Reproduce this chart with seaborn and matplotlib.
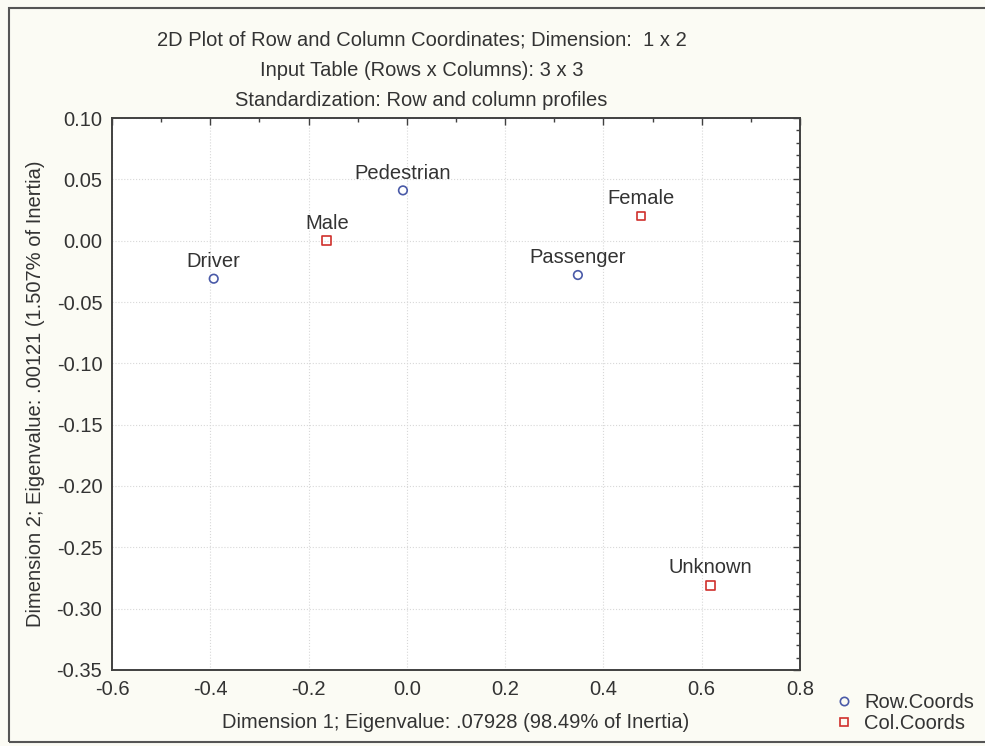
import matplotlib
matplotlib.use("Agg")
import matplotlib.pyplot as plt
import pandas as pd
import seaborn as sns
from matplotlib.lines import Line2D
from matplotlib.patches import Rectangle
from matplotlib.ticker import MultipleLocator

# Correspondence analysis coordinates
row_labels = ["Driver", "Pedestrian", "Passenger"]
row_dim1 = [-0.393, -0.008, 0.348]
row_dim2 = [-0.031, 0.041, -0.028]

col_labels = ["Male", "Female", "Unknown"]
col_dim1 = [-0.163, 0.476, 0.618]
col_dim2 = [0.000, 0.020, -0.281]

series_names = ["Row.Coords", "Col.Coords"]
x_ticks = [-0.6, -0.4, -0.2, 0.0, 0.2, 0.4, 0.6, 0.8]
y_ticks = [0.10, 0.05, 0.00, -0.05, -0.10, -0.15, -0.20, -0.25, -0.30, -0.35]

df = pd.DataFrame({
    "label": row_labels + col_labels,
    "dim1": row_dim1 + col_dim1,
    "dim2": row_dim2 + col_dim2,
    "set": [series_names[0]] * len(row_labels) + [series_names[1]] * len(col_labels),
})

blue = "#4a5aa8"
red = "#d0302c"
text_col = "#333333"
fs = 14.5

sns.set_style("white")
plt.rcParams["font.family"] = ["Liberation Sans", "DejaVu Sans"]

fig = plt.figure(figsize=(9.85, 7.46), dpi=100)
fig.patch.set_facecolor("#fbfbf4")
ax = fig.add_axes([0.1137, 0.1019, 0.6985, 0.7399])
ax.set_facecolor("white")

sns.scatterplot(
    data=df, x="dim1", y="dim2", hue="set", style="set",
    palette={series_names[0]: blue, series_names[1]: red},
    markers={series_names[0]: "o", series_names[1]: "s"},
    s=38, linewidth=1.2, legend=False, ax=ax, zorder=3,
)
# hollow markers: move the fill colour onto the edge
for coll in ax.collections:
    fc = coll.get_facecolors()
    coll.set_edgecolors(fc)
    coll.set_facecolors("none")

for _, r in df.iterrows():
    ax.annotate(r["label"], (r["dim1"], r["dim2"]), xytext=(0, 12.5),
                textcoords="offset points", ha="center", va="center",
                fontsize=fs, color=text_col, zorder=4)

ax.set_xlim(-0.6, 0.8)
ax.set_ylim(-0.35, 0.10)
ax.set_xticks(x_ticks)
ax.set_yticks(y_ticks)
ax.set_xticklabels([f"{v:.1f}" for v in x_ticks])
ax.set_yticklabels([f"{v:.2f}" for v in y_ticks])
ax.xaxis.set_minor_locator(MultipleLocator(0.1))
ax.yaxis.set_minor_locator(MultipleLocator(0.01))
ax.tick_params(which="both", direction="in", top=True, right=True,
               colors="#404040", width=1.0)
ax.tick_params(which="major", length=5, labelsize=fs, labelcolor=text_col)
ax.tick_params(axis="x", which="major", pad=7)
ax.tick_params(axis="y", which="major", pad=7)
ax.tick_params(which="minor", length=3)
ax.grid(True, which="major", linestyle=":", linewidth=0.8, color="#d8d8d8")
for sp in ax.spines.values():
    sp.set_visible(True)
    sp.set_color("#404040")
    sp.set_linewidth(1.4)

ax.set_xlabel("Dimension 1; Eigenvalue: .07928 (98.49% of Inertia)",
              fontsize=fs, color=text_col, labelpad=10)
ax.set_ylabel("Dimension 2; Eigenvalue: .00121 (1.507% of Inertia)",
              fontsize=fs, color=text_col, labelpad=8)

title_lines = [
    "2D Plot of Row and Column Coordinates; Dimension:  1 x 2",
    "Input Table (Rows x Columns): 3 x 3",
    "Standardization: Row and column profiles",
]
for i, line in enumerate(title_lines):
    fig.text(0.428, 1 - (40 + 30 * i) / 746, line, ha="center", va="center",
             fontsize=fs, color=text_col)

handles = [
    Line2D([], [], marker="o", linestyle="none", markerfacecolor="none",
           markeredgecolor=blue, markeredgewidth=1.2, markersize=6),
    Line2D([], [], marker="s", linestyle="none", markerfacecolor="none",
           markeredgecolor=red, markeredgewidth=1.2, markersize=6),
]
fig.legend(handles, series_names, loc="center left",
           bbox_to_anchor=(834 / 985, 1 - 713 / 746), frameon=False,
           fontsize=fs, labelcolor=text_col, handletextpad=0.5,
           labelspacing=0.1, handlelength=1.0, borderpad=0, borderaxespad=0)

# outer frame around the chart
fig.patches.append(Rectangle((9 / 985, 1 - 742 / 746), 1.0, (742 - 8) / 746,
                             transform=fig.transFigure, fill=False,
                             edgecolor="#555555", linewidth=1.5))

fig.savefig("out.png", dpi=100, facecolor=fig.get_facecolor())
